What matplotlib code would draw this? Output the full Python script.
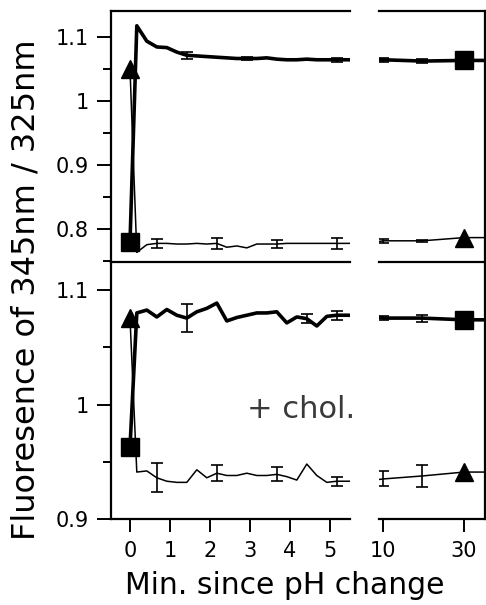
import numpy as np
import matplotlib.pyplot as plt
from matplotlib.ticker import MultipleLocator, FuncFormatter

# time points (min), same grid for every series
t = [0, 0.17, 0.42, 0.67, 0.92, 1.17, 1.42, 1.67, 1.92, 2.17, 2.42, 2.67, 2.92,
     3.17, 3.42, 3.67, 3.92, 4.17, 4.42, 4.67, 4.92, 5.17, 5.42, 10.1, 19.7, 30, 35]

# top panel (no cholesterol)
top_sq = [0.78, 1.117, 1.093, 1.084, 1.083, 1.076, 1.071, 1.070, 1.069, 1.068, 1.067, 1.066, 1.066,
          1.066, 1.067, 1.065, 1.064, 1.064, 1.065, 1.064, 1.064, 1.064, 1.064, 1.064, 1.062, 1.063, 1.063]
top_tri = [1.05, 0.764, 0.776, 0.778, 0.778, 0.777, 0.777, 0.778, 0.777, 0.778, 0.772, 0.774, 0.771,
           0.777, 0.777, 0.777, 0.778, 0.778, 0.778, 0.778, 0.778, 0.778, 0.778, 0.782, 0.782, 0.787, 0.787]
top_sq_err_t = [1.42, 2.92, 5.17, 10.1, 19.7]
top_sq_err_y = [1.071, 1.066, 1.064, 1.064, 1.062]
top_sq_err = [0.005, 0.003, 0.003, 0.003, 0.003]
top_tri_err_t = [0.67, 2.17, 3.67, 5.17, 10.1, 19.7]
top_tri_err_y = [0.778, 0.778, 0.777, 0.778, 0.782, 0.782]
top_tri_err = [0.007, 0.008, 0.006, 0.008, 0.003, 0.002]

# bottom panel (+ cholesterol)
bot_sq = [0.963, 1.080, 1.0825, 1.0765, 1.083, 1.078, 1.0755, 1.081, 1.084, 1.0886, 1.073, 1.076, 1.078,
          1.080, 1.080, 1.081, 1.0713, 1.0765, 1.075, 1.0686, 1.077, 1.078, 1.078, 1.0755, 1.0755, 1.074, 1.074]
bot_tri = [1.0755, 0.941, 0.942, 0.936, 0.933, 0.932, 0.932, 0.943, 0.936, 0.940, 0.938, 0.938, 0.940,
           0.938, 0.938, 0.939, 0.937, 0.934, 0.948, 0.938, 0.932, 0.933, 0.933, 0.935, 0.9376, 0.941, 0.941]
bot_sq_err_t = [1.42, 4.42, 5.17, 10.1, 19.7]
bot_sq_err_y = [1.0755, 1.075, 1.078, 1.0755, 1.0755]
bot_sq_err = [0.012, 0.004, 0.004, 0.002, 0.003]
bot_tri_err_t = [0.67, 2.17, 3.67, 5.17, 10.1, 19.7]
bot_tri_err_y = [0.936, 0.940, 0.939, 0.933, 0.935, 0.9376]
bot_tri_err = [0.0125, 0.007, 0.006, 0.004, 0.0065, 0.010]

xticks_left = [0, 1, 2, 3, 4, 5]
xticks_right = [10, 30]

W, H = 486, 605
fig = plt.figure(figsize=(W / 100, H / 100), dpi=100)


def box(x0, x1, y0, y1):
    return [x0 / W, 1 - y1 / H, (x1 - x0) / W, (y1 - y0) / H]


ax_tl = fig.add_axes(box(111, 350, 11, 262))
ax_tr = fig.add_axes(box(379, 485, 11, 262))
ax_bl = fig.add_axes(box(111, 350, 262, 519))
ax_br = fig.add_axes(box(379, 485, 262, 519))

lw_sp = 1.6


def draw(ax, sq, tri, sqe, trie):
    ax.plot(t, sq, color='black', lw=2.6, solid_joinstyle='round', zorder=3)
    ax.plot(t, tri, color='black', lw=1.1, zorder=3)
    ax.errorbar(sqe[0], sqe[1], yerr=sqe[2], fmt='none', ecolor='black',
                elinewidth=1.2, capsize=4.5, capthick=1.2, zorder=2)
    ax.errorbar(trie[0], trie[1], yerr=trie[2], fmt='none', ecolor='black',
                elinewidth=1.2, capsize=4.5, capthick=1.2, zorder=2)
    idx = [0, 25]
    ax.plot([t[i] for i in idx], [sq[i] for i in idx], 's', color='black', ms=13.5, zorder=4)
    ax.plot([t[i] for i in idx], [tri[i] for i in idx], '^', color='black', ms=13.5, zorder=4)


draw(ax_tl, top_sq, top_tri, (top_sq_err_t, top_sq_err_y, top_sq_err),
     (top_tri_err_t, top_tri_err_y, top_tri_err))
draw(ax_tr, top_sq, top_tri, (top_sq_err_t, top_sq_err_y, top_sq_err),
     (top_tri_err_t, top_tri_err_y, top_tri_err))
draw(ax_bl, bot_sq, bot_tri, (bot_sq_err_t, bot_sq_err_y, bot_sq_err),
     (bot_tri_err_t, bot_tri_err_y, bot_tri_err))
draw(ax_br, bot_sq, bot_tri, (bot_sq_err_t, bot_sq_err_y, bot_sq_err),
     (bot_tri_err_t, bot_tri_err_y, bot_tri_err))

for ax in (ax_tl, ax_bl):
    ax.set_xlim(-0.475, 5.5)
for ax in (ax_tr, ax_br):
    ax.set_xlim(9.0, 35.2)
for ax in (ax_tl, ax_tr):
    ax.set_ylim(0.749, 1.14)
for ax in (ax_bl, ax_br):
    ax.set_ylim(0.9, 1.1245)

fmt = FuncFormatter(lambda v, p: '%g' % round(v, 2))
for ax in (ax_tl, ax_bl):
    ax.yaxis.set_major_locator(MultipleLocator(0.1))
    ax.yaxis.set_minor_locator(MultipleLocator(0.05))
    ax.yaxis.set_major_formatter(fmt)
    ax.tick_params(axis='y', which='major', direction='out', length=10, width=1.4,
                   labelsize=15, pad=6)
    ax.tick_params(axis='y', which='minor', direction='out', length=6, width=1.4)

for ax in (ax_tr, ax_br):
    ax.set_yticks([])

for ax in (ax_tl, ax_tr):
    ax.set_xticks([])

ax_bl.set_xticks(xticks_left)
ax_br.set_xticks(xticks_right)
for ax in (ax_bl, ax_br):
    ax.tick_params(axis='x', direction='out', length=9, width=1.4, labelsize=15, pad=7)

for ax in (ax_tl, ax_tr, ax_bl, ax_br):
    ax.set_facecolor('none')
    for s in ax.spines.values():
        s.set_linewidth(lw_sp)

ax_tl.spines['right'].set_visible(False)
ax_bl.spines['right'].set_visible(False)
ax_bl.spines['top'].set_visible(False)
ax_tr.spines['left'].set_visible(False)
ax_br.spines['left'].set_visible(False)
ax_br.spines['top'].set_visible(False)

ax_bl.text(247 / W, 1 - 410 / H, '+ chol.', transform=fig.transFigure, fontsize=22,
           color='#3a3a3a', ha='left', va='center')

fig.text(26 / W, 1 - 290 / H, 'Fluoresence of 345nm / 325nm', rotation=90,
         fontsize=23, ha='center', va='center')
fig.text(285 / W, 1 - 585 / H, 'Min. since pH change', fontsize=21.5,
         ha='center', va='center')

fig.savefig('out.png', dpi=100)
